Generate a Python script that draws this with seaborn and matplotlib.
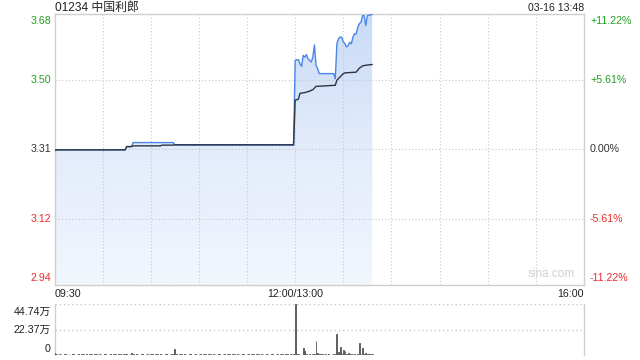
import numpy as np
import pandas as pd
import matplotlib
matplotlib.use("Agg")
import matplotlib.pyplot as plt
import seaborn as sns
from matplotlib.colors import LinearSegmentedColormap

# ---------------- data ----------------
title = "01234 中国利郎"
stamp = "03-16 13:48"
prev_close = 3.31
price_ticks = [3.68, 3.50, 3.31, 3.12, 2.94]
price_labels = ["3.68", "3.50", "3.31", "3.12", "2.94"]
pct_labels = ["+11.22%", "+5.61%", "0.00%", "-5.61%", "-11.22%"]
time_ticks = [0, 150, 330]
time_labels = ["09:30", "12:00/13:00", "16:00"]
vol_ticks = [0, 223700, 447400]
vol_labels = ["0", "22.37万", "44.74万"]

# minutes since 09:30 (lunch break removed), price
price_min = [0, 1, 44, 45, 48, 49, 74, 75, 149,
             150, 151, 152, 153, 154, 155, 156, 157, 158, 159, 160, 161, 162, 163, 164, 165,
             174, 175, 176, 177, 178, 179, 180, 181, 182, 183, 184, 185, 186, 187, 188, 189,
             190, 191, 192, 193, 194, 195, 198]
price_val = [3.305, 3.309, 3.309, 3.318, 3.318, 3.329, 3.329, 3.322, 3.322,
             3.554, 3.556, 3.556, 3.545, 3.538, 3.568, 3.563, 3.570, 3.559, 3.554, 3.550, 3.563, 3.597, 3.541, 3.532, 3.518,
             3.518, 3.504, 3.600, 3.614, 3.618, 3.618, 3.605, 3.600, 3.591, 3.595, 3.604, 3.600, 3.618, 3.627, 3.627, 3.645,
             3.655, 3.659, 3.677, 3.677, 3.650, 3.677, 3.680]

avg_min = [0, 44, 45, 48, 49, 66, 67, 74, 75, 149,
           150, 152, 153, 156, 159, 161, 163, 175, 176, 178, 180, 181, 188, 190, 192, 194, 198]
avg_val = [3.309, 3.309, 3.318, 3.318, 3.320, 3.320, 3.322, 3.322, 3.323, 3.323,
           3.445, 3.448, 3.464, 3.466, 3.470, 3.474, 3.483, 3.486, 3.500, 3.509, 3.518, 3.520, 3.522, 3.533, 3.539, 3.541, 3.543]

vol_val = [
    15000, 6000, 0, 5000, 7000, 0, 6000, 5000, 0, 7000,
    0, 6000, 5000, 0, 7000, 6000, 0, 5000, 6000, 0,
    7000, 0, 5000, 6000, 0, 7000, 5000, 0, 6000, 5000,
    0, 7000, 6000, 0, 5000, 6000, 0, 7000, 5000, 0,
    6000, 5000, 0, 7000, 12000, 6000, 0, 5000, 14000, 6000,
    0, 5000, 7000, 0, 6000, 5000, 0, 6000, 7000, 0,
    5000, 6000, 0, 7000, 5000, 0, 9000, 6000, 0, 5000,
    7000, 0, 6000, 5000, 8000, 57000, 6000, 0, 5000, 7000,
    0, 6000, 5000, 0, 7000, 6000, 0, 5000, 6000, 0,
    7000, 5000, 0, 6000, 5000, 0, 7000, 6000, 0, 5000,
    6000, 0, 7000, 5000, 0, 6000, 5000, 0, 7000, 6000,
    0, 5000, 6000, 0, 7000, 5000, 0, 6000, 5000, 0,
    7000, 6000, 0, 5000, 6000, 0, 7000, 5000, 0, 6000,
    5000, 0, 7000, 6000, 0, 5000, 6000, 0, 7000, 5000,
    0, 6000, 5000, 0, 7000, 6000, 0, 5000, 8000, 6000,
    447400, 8000, 5000, 4000, 3000, 59000, 35000, 6000, 4000, 5000,
    4000, 6000, 8000, 123000, 15000, 9000, 5000, 12000, 6000, 5000,
    4000, 5000, 4000, 6000, 5000, 9000, 184000, 29000, 67000, 8000,
    44000, 35000, 9000, 15000, 6000, 5000, 7000, 5000, 4000, 8000,
    105000, 10000, 61000, 9000, 17000, 12000, 14000, 8000, 6000,
]
vol_min = list(range(len(vol_val)))

# ---------------- style ----------------
sns.set_style("white")
plt.rcParams["font.family"] = ["Liberation Sans", "Noto Sans CJK SC", "DejaVu Sans"]

GREEN = "#1fa01f"
RED = "#ee2a2a"
DARK = "#333333"
GRID = "#c8c8c8"
BORDER = "#cfcfcf"
BLUE = "#4a86e8"
AVG = "#2e3440"
FS = 7.7

lo = prev_close * (1 - 0.1122)
hi = prev_close * (1 + 0.1122)

fig = plt.figure(figsize=(6.4, 3.6), dpi=100)
ax = fig.add_axes([54.5 / 640, 1 - 285 / 360, 529.5 / 640, 271 / 360])
axv = fig.add_axes([54.5 / 640, 1 - 355 / 360, 529.5 / 640, 51 / 360])

price_df = pd.DataFrame({"minute": price_min, "price": price_val})
avg_df = pd.DataFrame({"minute": avg_min, "avg": avg_val})

# gradient fill under price line
poly = ax.fill_between(price_df["minute"], price_df["price"], lo, facecolor="none", edgecolor="none")
grad = np.linspace(0, 1, 256).reshape(-1, 1)
cmap = LinearSegmentedColormap.from_list("g", ["#f2f6fd", "#e3ecfb", "#c9dbf8"])
im = ax.imshow(grad, extent=[0, 330, lo, hi], origin="lower", aspect="auto", cmap=cmap, zorder=1)
im.set_clip_path(poly.get_paths()[0], transform=ax.transData)

# grid
dot = (0, (1, 2))
for v in [3.50, 3.31, 3.12]:
    ax.axhline(v, color=GRID, lw=0.8, ls=dot, zorder=2)
for m in range(30, 330, 30):
    ax.axvline(m, color=GRID, lw=0.8, ls=dot, zorder=2)

sns.lineplot(data=price_df, x="minute", y="price", ax=ax, color=BLUE, lw=1.0,
             estimator=None, sort=False, zorder=3)
sns.lineplot(data=avg_df, x="minute", y="avg", ax=ax, color=AVG, lw=1.0,
             estimator=None, sort=False, zorder=4)

ax.set_xlim(0, 330)
ax.set_ylim(lo, hi)
ax.set_xticks([])
ax.set_yticks([])
ax.set_xlabel("")
ax.set_ylabel("")
for s in ax.spines.values():
    s.set_color(BORDER)
    s.set_linewidth(1.0)

colors = [GREEN, GREEN, DARK, RED, RED]
vas = ["top", "center", "center", "center", "bottom"]
offs = [-2, 0, 0, 0, 2]
for v, lab, pct, c, va, off in zip(price_ticks, price_labels, pct_labels, colors, vas, offs):
    yv = hi if va == "top" else (lo if va == "bottom" else v)
    ax.annotate(lab, xy=(0, yv), xycoords=("axes fraction", "data"), xytext=(-3.5, off),
                textcoords="offset pixels", ha="right", va=va, color=c, fontsize=FS)
    ax.annotate(pct, xy=(1, yv), xycoords=("axes fraction", "data"), xytext=(6, off),
                textcoords="offset pixels", ha="left", va=va, color=c, fontsize=FS)

# title & stamp
fig.text(55 / 640, 1 - 8 / 360, title, ha="left", va="center", fontsize=8.6, color="#222222")
fig.text(584 / 640, 1 - 8 / 360, stamp, ha="right", va="center", fontsize=7.6, color="#222222")

# time labels
has = ["left", "center", "right"]
for t, lab, h in zip(time_ticks, time_labels, has):
    ax.annotate(lab, xy=(t, 0), xycoords=("data", "axes fraction"), xytext=(0, -9),
                textcoords="offset pixels", ha=h, va="center", fontsize=FS, color="#222222")

# watermark
ax.text(0.982, 0.018, "sina.com", transform=ax.transAxes, ha="right", va="bottom",
        fontsize=8.5, color="#d0d0d0", zorder=2)

# volume
axv.bar(vol_min, vol_val, width=0.5, color="#555555", edgecolor="#555555",
        linewidth=0.6, zorder=3)
axv.set_xlim(0, 330)
axv.set_ylim(0, 447400)
axv.axhline(447400, color=GRID, lw=1.0, ls=dot, zorder=1)
axv.axhline(223700, color=GRID, lw=1.0, ls=dot, zorder=1)
axv.set_xticks([])
axv.set_yticks([])
for k in ["top", "bottom"]:
    axv.spines[k].set_visible(False)
for k in ["left", "right"]:
    axv.spines[k].set_color(BORDER)
    axv.spines[k].set_linewidth(1.0)

vvas = ["bottom", "center", "top"]
voffs = [1, 0, -3]
for v, lab, va, off in zip(vol_ticks, vol_labels, vvas, voffs):
    axv.annotate(lab, xy=(0, v), xycoords=("axes fraction", "data"), xytext=(-4, off),
                 textcoords="offset pixels", ha="right", va=va, fontsize=FS, color="#222222")

fig.savefig("out.png", dpi=100, facecolor="white")
